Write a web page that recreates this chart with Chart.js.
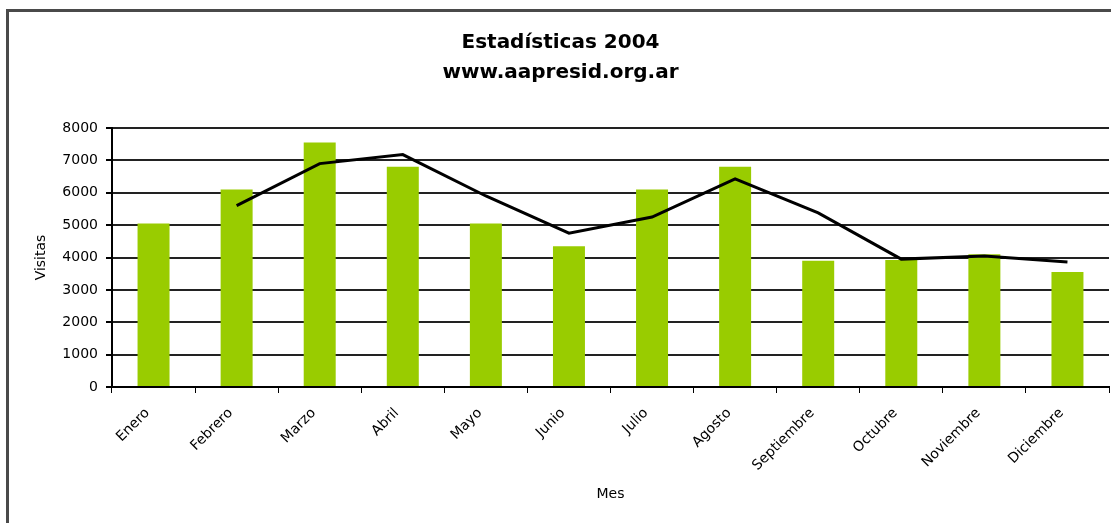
<!DOCTYPE html>
<html>
<head>
<meta charset="utf-8">
<script src="https://cdn.jsdelivr.net/npm/chart.js@4/dist/chart.umd.min.js"></script>
<style>
  html, body { margin: 0; padding: 0; background: #fff; }
  #wrap { position: relative; width: 1111px; height: 523px; overflow: hidden; }
  #frame {
    position: absolute; left: 6px; top: 9px; width: 1200px; height: 600px;
    border-left: 3px solid #4a4a4a; border-top: 3px solid #4a4a4a;
  }
  canvas { position: absolute; left: 0; top: 0; }
</style>
</head>
<body>
<div id="wrap">
  <div id="frame"></div>
  <canvas id="chart" width="1111" height="523"></canvas>
</div>
<script>
// Data
const months = ['Enero', 'Febrero', 'Marzo', 'Abril', 'Mayo', 'Junio',
  'Julio', 'Agosto', 'Septiembre', 'Octubre', 'Noviembre', 'Diciembre'];
const visitas = [5050, 6100, 7550, 6800, 5050, 4350, 6100, 6800, 3900, 3920, 4100, 3550];
// trend line as drawn, no point for Enero
const tendencia = [null, 5600, 6900, 7180, 5900, 4750, 5250, 6430, 5380, 3950, 4050, 3860];
const yTicks = [0, 1000, 2000, 3000, 4000, 5000, 6000, 7000, 8000];

const font = 'DejaVu Sans';

const ctx = document.getElementById('chart').getContext('2d');
new Chart(ctx, {
  data: {
    labels: months,
    datasets: [
      {
        type: 'line',
        label: 'Tendencia',
        data: tendencia,
        borderColor: '#000',
        borderWidth: 3,
        pointRadius: 0,
        tension: 0,
        fill: false,
        order: 0
      },
      {
        type: 'bar',
        label: 'Visitas',
        data: visitas,
        backgroundColor: '#99cc00',
        barPercentage: 0.385,
        categoryPercentage: 1,
        order: 1
      }
    ]
  },
  options: {
    responsive: false,
    animation: false,
    events: [],
    layout: { padding: { top: 10, left: 12, right: 2, bottom: 10 } },
    plugins: {
      legend: { display: false },
      tooltip: { enabled: false },
      title: {
        display: true,
        text: ['Estadísticas 2004', 'www.aapresid.org.ar'],
        color: '#000',
        font: { family: font, size: 20, weight: 'bold', lineHeight: 1.5 },
        padding: { top: 18, bottom: 40 }
      }
    },
    scales: {
      x: {
        afterFit: (s) => { s.height = 523 - 10 - 387; },
        grid: {
          display: true,
          drawOnChartArea: false,
          drawTicks: true,
          tickLength: 6,
          tickColor: '#000',
          offset: true
        },
        border: { color: '#000', width: 2 },
        ticks: {
          color: '#000',
          font: { family: font, size: 14 },
          minRotation: 45,
          maxRotation: 45,
          padding: 12,
          labelOffset: -6,
          autoSkip: false
        },
        title: {
          display: true,
          text: 'Mes',
          color: '#000',
          font: { family: font, size: 14 },
          padding: { top: 4, bottom: 10 }
        }
      },
      y: {
        min: 0,
        max: 8000,
        afterFit: (s) => { s.width = 112 - 12; },
        afterBuildTicks: (s) => { s.ticks = yTicks.map(v => ({ value: v })); },
        grid: {
          color: '#222',
          lineWidth: 2,
          tickLength: 6,
          tickColor: '#000'
        },
        border: { color: '#000', width: 2 },
        ticks: {
          color: '#000',
          font: { family: font, size: 14 },
          padding: 8,
          callback: (v) => String(v)
        },
        title: {
          display: true,
          text: 'Visitas',
          color: '#000',
          font: { family: font, size: 14 },
          padding: { top: 21, bottom: 4 }
        }
      }
    }
  }
});
</script>
</body>
</html>
